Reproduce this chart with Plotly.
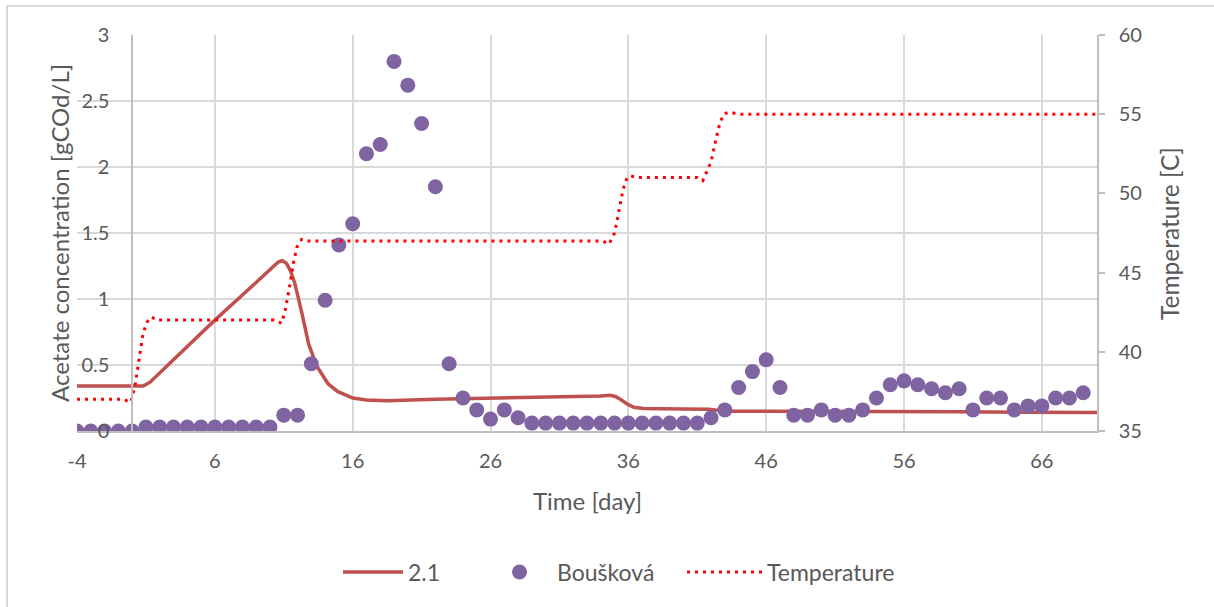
import plotly.graph_objects as go

# ---- data ----
obs_day = list(range(-4, 70))
obs_acetate = [0, 0, 0, 0, 0,
               0.03, 0.03, 0.03, 0.03, 0.03, 0.03, 0.03, 0.03, 0.03, 0.03,
               0.12, 0.12, 0.51, 0.99, 1.41, 1.57, 2.10, 2.17, 2.80, 2.62,
               2.33, 1.85, 0.51, 0.25, 0.16, 0.09, 0.16, 0.10, 0.06, 0.06,
               0.06, 0.06, 0.06, 0.06, 0.06, 0.06, 0.06, 0.06, 0.06, 0.06,
               0.06, 0.10, 0.16, 0.33, 0.45, 0.54, 0.33, 0.12, 0.12, 0.16,
               0.12, 0.12, 0.16, 0.25, 0.35, 0.38, 0.35, 0.32, 0.29, 0.32,
               0.16, 0.25, 0.25, 0.16, 0.19, 0.19, 0.25, 0.25, 0.29]

model_day = [-4, 0.8, 1.3, 3, 6, 8, 9.8, 10.2, 10.6, 10.9, 11.2, 11.5, 11.8,
             12.3, 12.8, 13.4, 14.2, 14.9, 16, 17, 18.5, 22, 26, 30, 34, 34.7,
             35.1, 35.5, 35.9, 36.4, 37.1, 40, 41.8, 43.1, 46, 50, 55, 60, 65, 70]
model_acetate = [0.34, 0.34, 0.37, 0.54, 0.84, 1.03, 1.20, 1.24, 1.28, 1.29,
                 1.27, 1.21, 1.12, 0.90, 0.66, 0.49, 0.36, 0.30, 0.25, 0.235,
                 0.23, 0.24, 0.247, 0.258, 0.265, 0.27, 0.26, 0.235, 0.205,
                 0.18, 0.17, 0.167, 0.165, 0.15, 0.15, 0.15, 0.15, 0.145,
                 0.142, 0.14]

temp_day = [-4, -0.6, -0.1, 0.2, 0.5, 0.8, 1.1, 1.4, 1.8, 10.3, 10.85, 11.1,
            11.4, 11.7, 11.95, 12.3, 12.8, 34.1, 34.6, 35.0, 35.3, 35.6, 35.9,
            36.2, 36.6, 41.0, 41.4, 42.0, 42.3, 42.6, 42.9, 43.2, 43.5, 44.0, 70]
temp_c = [37.0, 37.0, 36.8, 37.8, 39.5, 41.2, 41.9, 42.2, 42.0, 42.0, 41.8,
          42.6, 44.0, 45.6, 46.6, 47.1, 47.0, 47.0, 46.8, 47.5, 48.8, 50.2,
          51.0, 51.1, 51.0, 51.0, 50.8, 52.0, 53.2, 54.3, 55.0, 55.1, 55.1,
          55.0, 55.0]

x_ticks = [-4, 6, 16, 26, 36, 46, 56, 66]
x_tick_labels = ["-4", "6", "16", "26", "36", "46", "56", "66"]

# ---- layout geometry ----
W, H = 1214, 607
L, R, T, B = 77, 1097, 35, 431
pw, ph = R - L, B - T


def px(x):
    return (x - L) / pw


def py(y):
    return (B - y) / ph


FONT = "Lato"
GREY = "#595959"

fig = go.Figure()
fig.add_trace(go.Scatter(x=model_day, y=model_acetate, name="2.1", mode="lines",
                         line=dict(color="#C0504D", width=3.5), legend="legend"))
fig.add_trace(go.Scatter(x=obs_day, y=obs_acetate, name="Boušková", mode="markers",
                         marker=dict(color="#8064A2", size=15), legend="legend2"))
fig.add_trace(go.Scatter(x=temp_day, y=temp_c, name="Temperature", mode="lines",
                         yaxis="y2", legend="legend3",
                         line=dict(color="#FF0000", width=3, dash="3px,5px")))

leg_common = dict(orientation="h", xanchor="left", yanchor="middle",
                  y=py(572), font=dict(size=23, color=GREY, family=FONT),
                  bgcolor="rgba(0,0,0,0)", borderwidth=0)

fig.update_layout(
    width=W, height=H,
    margin=dict(l=L, r=W - R, t=T, b=H - B),
    paper_bgcolor="white", plot_bgcolor="white",
    font=dict(family=FONT, size=20, color=GREY),
    showlegend=True,
    legend=dict(x=px(338), itemwidth=60, **leg_common),
    legend2=dict(x=px(482), itemwidth=65, **leg_common),
    legend3=dict(x=px(682), itemwidth=75, **leg_common),
    xaxis=dict(range=[-4, 70], tickvals=x_ticks, ticktext=x_tick_labels,
               showgrid=True, gridcolor="#D9D9D9", gridwidth=1.5, zeroline=False,
               showline=True, linecolor="#BFBFBF", linewidth=1.5,
               ticks="", ticklabelstandoff=11,
               tickfont=dict(size=20, color=GREY)),
    yaxis=dict(range=[0, 3], dtick=0.5, showgrid=True, gridcolor="#D9D9D9",
               gridwidth=1.5, zeroline=False, anchor="free", position=4 / 74,
               showline=True, linecolor="#BFBFBF", linewidth=1.5, ticks="",
               ticklabelstandoff=18, tickfont=dict(size=20, color=GREY)),
    yaxis2=dict(range=[35, 60], dtick=5, overlaying="y", side="right",
                showgrid=False, zeroline=False, showline=True,
                linecolor="#BFBFBF", linewidth=1.5, ticks="outside",
                ticklen=6, tickcolor="#BFBFBF", tickwidth=1.5,
                ticklabelstandoff=10, tickfont=dict(size=20, color=GREY)),
)

fig.add_annotation(text="Acetate concentration [gCOd/L]", xref="paper", yref="paper",
                   x=px(59), y=py(233), showarrow=False, textangle=-90,
                   font=dict(size=24, color=GREY), xanchor="center", yanchor="middle")
fig.add_annotation(text="Temperature [C]", xref="paper", yref="paper",
                   x=px(1169), y=py(234), showarrow=False, textangle=-90,
                   font=dict(size=24.5, color=GREY), xanchor="center", yanchor="middle")
fig.add_annotation(text="Time [day]", xref="paper", yref="paper",
                   x=px(587), y=py(500), showarrow=False,
                   font=dict(size=24, color=GREY), xanchor="center", yanchor="middle")

# chart border (top and left visible)
fig.add_shape(type="rect", xref="paper", yref="paper",
              x0=px(7), x1=px(1240), y0=py(640), y1=py(6),
              line=dict(color="#D9D9D9", width=2), layer="below")

fig.write_html("out.html", config={"displayModeBar": False},
               post_script="document.body.style.margin='0px';")
